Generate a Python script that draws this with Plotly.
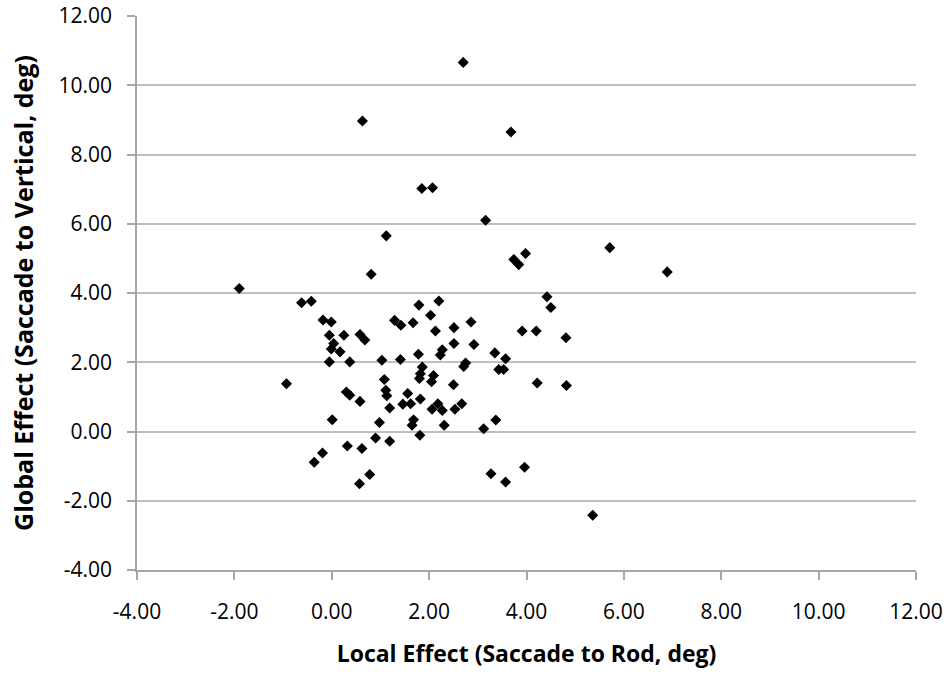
import plotly.graph_objects as go

local_effect = [
    -1.90, -0.93, -0.62, -0.42, -0.18, -0.01, -0.05, 0.25, 0.58, 0.68,
    0.04, -0.01, 0.17, -0.05, 0.37, 1.03, 0.30, 0.37, 0.58, 1.08,
    1.11, 1.13, 1.19, 0.01, 0.98, 0.90, 1.19, 0.32, 0.62, -0.19,
    -0.36, 0.78, 0.57, 4.42, 4.50, 1.79, 2.20, 2.03, 1.29, 1.42,
    1.67, 2.13, 2.51, 2.86, 3.91, 4.20, 4.81, 2.51, 2.92, 2.27,
    2.23, 1.78, 1.41, 1.86, 1.82, 1.80, 2.75, 2.71, 3.35, 3.57,
    3.43, 3.53, 2.09, 2.05, 2.50, 4.22, 4.82, 1.56, 1.82, 1.46,
    1.62, 2.06, 2.18, 2.27, 2.53, 2.67, 1.68, 1.65, 2.31, 1.81,
    3.12, 3.37, 3.96, 3.27, 3.57, 2.70, 0.63, 3.68, 1.85, 2.07,
    3.16, 1.12, 3.98, 3.74, 3.84, 5.71, 6.89, 0.81, 5.36,
]
global_effect = [
    4.13, 1.38, 3.72, 3.76, 3.22, 3.16, 2.78, 2.78, 2.80, 2.64,
    2.54, 2.38, 2.30, 2.01, 2.01, 2.06, 1.14, 1.05, 0.87, 1.50,
    1.19, 1.03, 0.68, 0.34, 0.26, -0.19, -0.28, -0.42, -0.49, -0.62,
    -0.89, -1.24, -1.51, 3.89, 3.58, 3.65, 3.77, 3.36, 3.21, 3.07,
    3.14, 2.90, 3.00, 3.16, 2.90, 2.90, 2.71, 2.54, 2.51, 2.36,
    2.21, 2.23, 2.08, 1.86, 1.67, 1.53, 1.98, 1.88, 2.27, 2.10,
    1.79, 1.79, 1.62, 1.44, 1.35, 1.40, 1.33, 1.10, 0.94, 0.79,
    0.80, 0.64, 0.80, 0.61, 0.64, 0.80, 0.34, 0.18, 0.18, -0.11,
    0.08, 0.33, -1.03, -1.22, -1.46, 10.66, 8.97, 8.65, 7.02, 7.04,
    6.10, 5.65, 5.14, 4.97, 4.82, 5.31, 4.61, 4.54, -2.42,
]

tick_vals = [-4, -2, 0, 2, 4, 6, 8, 10, 12]
tick_text = ["-4.00", "-2.00", "0.00", "2.00", "4.00", "6.00", "8.00", "10.00", "12.00"]

fig = go.Figure(
    go.Scatter(
        x=local_effect,
        y=global_effect,
        mode="markers",
        marker=dict(symbol="diamond", size=8.5, color="black"),
        hoverinfo="x+y",
    )
)

font_family = "'Open Sans', Lato, sans-serif"

fig.update_layout(
    width=948,
    height=674,
    margin=dict(l=137, r=32, t=16, b=104, autoexpand=False),
    paper_bgcolor="white",
    plot_bgcolor="white",
    showlegend=False,
    font=dict(family=font_family, color="black"),
)

fig.update_xaxes(
    range=[-4, 12],
    tickvals=tick_vals,
    ticktext=tick_text,
    showgrid=False,
    zeroline=False,
    showline=True,
    linecolor="#a6a6a6",
    linewidth=1.5,
    ticks="outside",
    ticklen=8,
    tickcolor="#a6a6a6",
    tickwidth=1.5,
    tickfont=dict(size=21, family=font_family, color="black"),
    ticklabelstandoff=14,
    title=dict(
        text="<b>Local Effect (Saccade to Rod, deg)</b>",
        font=dict(size=23, family=font_family, color="black"),
        standoff=22,
    ),
)

fig.update_yaxes(
    range=[-4, 12],
    tickvals=tick_vals,
    ticktext=tick_text,
    showgrid=True,
    gridcolor="#bfbfbf",
    gridwidth=1.5,
    zeroline=False,
    showline=True,
    linecolor="#a6a6a6",
    linewidth=1.5,
    ticks="outside",
    ticklen=8,
    tickcolor="#a6a6a6",
    tickwidth=1.5,
    tickfont=dict(size=21, family=font_family, color="black"),
    ticklabelstandoff=11,
    title=dict(
        text="<b>Global Effect (Saccade to Vertical, deg)</b>",
        font=dict(size=25, family=font_family, color="black"),
        standoff=18,
    ),
)

fig.write_html("out.html")
